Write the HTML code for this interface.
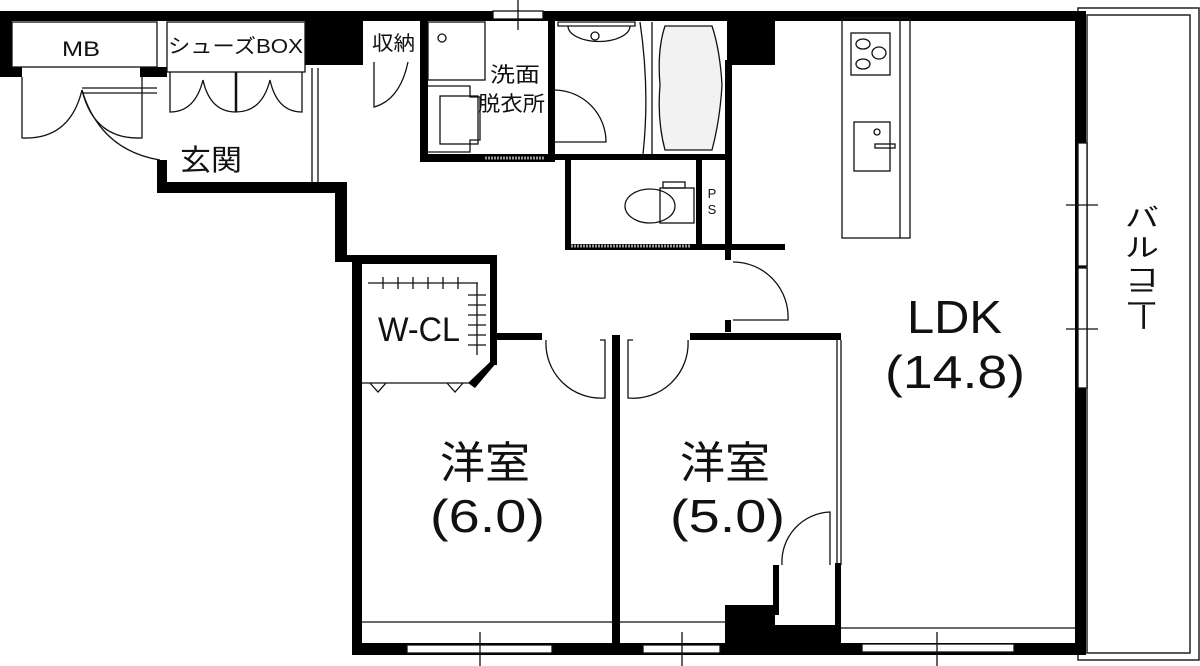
<!DOCTYPE html>
<html><head><meta charset="utf-8"><style>
html,body{margin:0;padding:0;background:#fff;}
svg{display:block}
text{font-family:"Liberation Sans","Noto Sans CJK JP",sans-serif;fill:#111}
</style></head><body>
<svg width="1200" height="666" viewBox="0 0 1200 666" xmlns="http://www.w3.org/2000/svg">
<rect x="1078" y="8" width="121" height="652" fill="none" stroke="#222" stroke-width="1.5"/>
<rect x="1087" y="15" width="103" height="638" fill="none" stroke="#222" stroke-width="1.5"/>
<g fill="#000">
<rect x="0" y="11" width="1086" height="10"/>
<rect x="0" y="11" width="12" height="66"/>
<rect x="0" y="67" width="22" height="10"/>
<rect x="140" y="67" width="27" height="10"/>
<rect x="157" y="160" width="10" height="33"/>
<rect x="157" y="182" width="188" height="11"/>
<rect x="335" y="182" width="12" height="80"/>
<rect x="335" y="255" width="25" height="7"/>
<rect x="352" y="255" width="10" height="400"/>
<rect x="352" y="643" width="734" height="12"/>
<rect x="1075" y="11" width="11" height="644"/>
<rect x="305" y="11" width="58" height="54"/>
<rect x="727" y="11" width="48" height="54"/>
<rect x="420" y="11" width="8" height="150"/>
<rect x="420" y="154" width="135" height="8"/>
<rect x="548" y="11" width="7" height="150"/>
<rect x="548" y="154" width="184" height="6"/>
<rect x="725" y="60" width="7" height="190"/>
<rect x="565" y="158" width="6" height="92"/>
<rect x="565" y="244" width="220" height="6"/>
<rect x="696" y="158" width="6" height="90"/>
<rect x="725" y="248" width="6" height="12"/>
<rect x="725" y="320" width="6" height="12"/>
<rect x="352" y="255" width="145" height="9"/>
<rect x="490" y="255" width="7" height="110"/>
<rect x="497" y="333" width="45" height="7"/>
<rect x="690" y="333" width="151" height="7"/>
<rect x="612" y="335" width="8" height="315"/>
<rect x="725" y="605" width="50" height="45"/>
<rect x="773" y="565" width="6" height="50"/>
<rect x="835" y="563" width="6" height="85"/>
<rect x="773" y="625" width="68" height="25"/>
</g>
<polygon points="497,362 490,362 468,383 475,388" fill="#000"/>
<g fill="none" stroke="#111" stroke-width="1.3">
<rect x="12" y="22" width="145" height="45"/>
<rect x="167" y="22" width="138" height="50"/>
<line x1="312" y1="68" x2="312" y2="182"/><line x1="318" y1="68" x2="318" y2="182"/>
<path d="M22 77 V138 Q70 140 82 90 Q94 140 142 138 V77"/>
<path d="M82 90 Q100 150 160 160"/>
<line x1="82" y1="88" x2="157" y2="88"/><line x1="82" y1="93" x2="157" y2="93"/>
<path d="M170 72 V112 Q195 112 203 80 Q210 112 236 112 Q262 112 270 80 Q277 112 302 112 V72"/>
<line x1="236" y1="72" x2="236" y2="112" stroke-width="2.5"/>
<path d="M374 62 V107 Q400 100 408 62"/>
<rect x="428" y="22" width="57" height="58"/>
<circle cx="442" cy="38" r="4"/>
<path d="M428 86 H470 V97 H480 V140 H470 V152 H428"/>
<rect x="440" y="96" width="38" height="48"/>
<path d="M555 90 A52 52 0 0 1 606 142 H555"/>
<line x1="485" y1="158" x2="545" y2="158" stroke="#999" stroke-width="3" stroke-dasharray="2 1"/>
<path d="M558 22 H635 V26 H558 Z"/>
<path d="M568 26 A30 15 0 0 0 630 26"/><circle cx="595" cy="36" r="4"/>
<path d="M640 22 Q650 90 643 154"/><line x1="652" y1="22" x2="652" y2="154"/>
<path d="M665 26 H712 Q720 50 722 85 Q720 120 712 150 H665 Q657 120 660 85 Q657 50 665 26 Z" fill="#f2f2f2"/>
<ellipse cx="650" cy="206" rx="25" ry="17"/>
<rect x="660" y="188" width="34" height="35"/>
<rect x="663" y="182" width="22" height="6"/>
<line x1="571" y1="246" x2="690" y2="246" stroke="#999" stroke-width="3" stroke-dasharray="2 1"/>
<path d="M733 262 A55 55 0 0 1 788 320 H733"/>
<path d="M546 340 A55 55 0 0 0 605 398 V340 H600"/>
<path d="M688 340 A55 55 0 0 1 628 398 V340 H633"/>
<path d="M782 565 A50 50 0 0 1 830 512 V565"/>
<line x1="837" y1="340" x2="837" y2="565"/><line x1="841" y1="340" x2="841" y2="565"/>
<line x1="368" y1="283" x2="478" y2="283"/>
<line x1="477" y1="283" x2="477" y2="355"/>
<path d="M383 277 V289 M398 277 V289 M413 277 V289 M428 277 V289 M443 277 V289 M458 277 V289"/>
<path d="M468 295 H486 M468 305 H486 M468 315 H486 M468 325 H486 M468 335 H486 M468 345 H486"/>
<line x1="362" y1="383" x2="470" y2="383"/>
<path d="M370 383 L378 392 L386 383 M447 383 L455 392 L463 383"/>
<line x1="362" y1="622" x2="612" y2="622"/>
<line x1="620" y1="622" x2="725" y2="622"/>
<line x1="841" y1="628" x2="1075" y2="628"/>
<rect x="842" y="18" width="68" height="220"/>
<line x1="900" y1="18" x2="900" y2="238"/>
<rect x="851" y="33" width="39" height="42"/>
<ellipse cx="863" cy="44" rx="7" ry="5"/><ellipse cx="879" cy="53" rx="7" ry="6"/><ellipse cx="863" cy="64" rx="7" ry="5"/>
<rect x="854" y="122" width="36" height="49"/>
<circle cx="877" cy="132" r="3"/><rect x="875" y="144" width="20" height="4"/>
<rect x="1078" y="143" width="9" height="123" fill="#fff"/>
<rect x="1078" y="268" width="9" height="120" fill="#fff"/>
<line x1="1066" y1="205" x2="1098" y2="205"/><line x1="1066" y1="329" x2="1098" y2="329"/>
<rect x="862" y="644" width="152" height="8" fill="#fff"/>
<rect x="407" y="645" width="145" height="8" fill="#fff"/>
<rect x="643" y="645" width="77" height="8" fill="#fff"/>
<rect x="493" y="11" width="50" height="8" fill="#fff"/>
<line x1="937" y1="632" x2="937" y2="666"/><line x1="480" y1="632" x2="480" y2="666"/><line x1="682" y1="632" x2="682" y2="666"/><line x1="518" y1="0" x2="518" y2="30"/>
</g>
<rect x="376" y="312" width="88" height="32" fill="#fff"/>
<text x="62" y="56" font-size="21" textLength="38" lengthAdjust="spacingAndGlyphs">MB</text>
<text x="168" y="53" font-size="20" textLength="135" lengthAdjust="spacingAndGlyphs">シューズBOX</text>
<text x="372" y="50" font-size="20" textLength="43" lengthAdjust="spacingAndGlyphs">収納</text>
<text x="490" y="82" font-size="21" textLength="50" lengthAdjust="spacingAndGlyphs">洗面</text>
<text x="478" y="111" font-size="21" textLength="67" lengthAdjust="spacingAndGlyphs">脱衣所</text>
<text x="180" y="170" font-size="29" textLength="62" lengthAdjust="spacingAndGlyphs">玄関</text>
<text x="712" y="198" font-size="13" text-anchor="middle">P</text>
<text x="712" y="214" font-size="13" text-anchor="middle">S</text>
<text x="378" y="341" font-size="34" textLength="82" lengthAdjust="spacingAndGlyphs">W-CL</text>
<text x="440" y="478" font-size="44" textLength="90" lengthAdjust="spacingAndGlyphs">洋室</text>
<text x="430" y="532" font-size="46" textLength="115" lengthAdjust="spacingAndGlyphs">(6.0)</text>
<text x="680" y="478" font-size="44" textLength="90" lengthAdjust="spacingAndGlyphs">洋室</text>
<text x="670" y="532" font-size="46" textLength="115" lengthAdjust="spacingAndGlyphs">(5.0)</text>
<text x="907" y="333" font-size="46" textLength="95" lengthAdjust="spacingAndGlyphs">LDK</text>
<text x="885" y="388" font-size="46" textLength="140" lengthAdjust="spacingAndGlyphs">(14.8)</text>
<g font-size="34" text-anchor="middle" transform="translate(1142,0) scale(1,0.75)">
<text x="0" y="302">バ</text>
<text x="0" y="342">ル</text>
<text x="0" y="382">コ</text>
<text x="0" y="408">ニ</text>
</g>
<text transform="translate(1142,317) rotate(90)" font-size="30" text-anchor="middle" x="0" y="10">ー</text>
</svg>
</body></html>
